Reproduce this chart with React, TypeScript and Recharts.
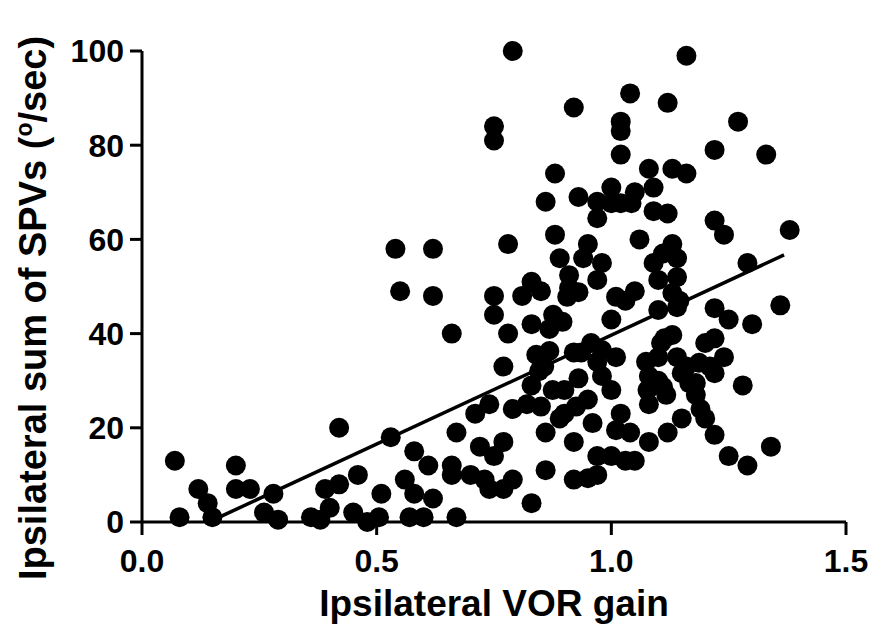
import { ScatterChart, Scatter, XAxis, YAxis, ReferenceLine, Label } from 'recharts';

// ipsilateral VOR gain (x) and sum of SPVs in deg/sec (y), split by gain range
const lowGain = [0.07, 0.08, 0.12, 0.14, 0.15, 0.2, 0.2, 0.23, 0.28, 0.26, 0.29, 0.42, 0.39, 0.42, 0.46, 0.36, 0.38, 0.4, 0.45, 0.48, 0.505, 0.51, 0.53, 0.58, 0.61, 0.56, 0.58, 0.62, 0.57, 0.6, 0.67, 0.67, 0.66, 0.66, 0.54, 0.62, 0.55, 0.62, 0.66];
const lowSpv = [13, 1, 7, 4, 1, 12, 7, 7, 6, 2, 0.5, 20, 7, 8, 10, 1, 0.5, 3, 2, 0, 1, 6, 18, 15, 12, 9, 6, 5, 1, 1, 1, 19, 12, 10, 58, 58, 49, 48, 40];

const midGain = [0.7, 0.71, 0.74, 0.72, 0.75, 0.77, 0.73, 0.74, 0.77, 0.79, 0.79, 0.82, 0.83, 0.85, 0.83, 0.86, 0.86, 0.875, 0.9, 0.89, 0.9, 0.93, 0.925, 0.95, 0.96, 0.92, 0.92, 0.95, 0.97, 0.97, 0.79, 0.75, 0.75, 0.88, 0.86, 0.78, 0.88, 0.89, 0.75, 0.75, 0.78, 0.83, 0.81, 0.85, 0.876, 0.83, 0.868, 0.84, 0.868, 0.857, 0.77, 0.846, 0.92, 0.93, 0.97, 0.97, 0.95, 0.94, 0.98, 0.91, 0.97, 0.91, 0.93, 0.906, 0.896, 0.957, 0.92, 0.936, 0.98, 0.97, 0.98];
const midSpv = [10, 23, 25, 16, 14, 17, 9, 7, 7, 9, 24, 25, 29, 24.5, 4, 11, 19, 28, 28, 22, 23, 30.5, 24.5, 26, 21, 17, 9, 9.3, 10, 14, 100, 84, 81, 74, 68, 59, 61, 56, 48, 44, 40, 51, 48, 49, 44, 42, 41, 35.5, 36.3, 33, 33, 32, 88, 69, 68, 64.5, 59, 56, 55, 52.4, 51.4, 49.7, 48.8, 47.8, 42.5, 38, 36, 36, 36.5, 34, 31];

const highGain = [1.0, 1.0, 1.03, 1.05, 1.02, 1.01, 1.04, 1.08, 1.08, 1.077, 1.117, 1.12, 1.15, 1.166, 1.18, 1.19, 1.2, 1.22, 1.25, 1.29, 1.34, 1.28, 1.16, 1.04, 1.12, 1.02, 1.02, 1.27, 1.02, 1.22, 1.08, 1.13, 1.16, 1.09, 1.0, 1.05, 1.0, 1.02, 1.043, 1.09, 1.12, 1.22, 1.33, 1.06, 1.13, 1.24, 1.09, 1.14, 1.11, 1.1, 1.14, 1.01, 1.05, 1.03, 1.13, 1.145, 1.14, 1.1, 1.22, 1.25, 1.0, 1.113, 1.106, 1.13, 1.2, 1.22, 1.01, 1.074, 1.1, 1.14, 1.16, 1.187, 1.21, 1.24, 1.08, 1.1, 1.11, 1.15, 1.18, 1.22, 1.38, 1.29, 1.36, 1.3];
const highSpv = [28, 14, 13, 13, 23, 19.5, 19, 17, 25, 28, 27, 19, 22, 29.5, 27, 24, 22, 18.5, 14, 12, 16, 29, 99, 91, 89, 85, 83, 85, 78, 79, 75, 75, 74, 71, 71, 70, 67.7, 67.7, 67.7, 66, 65.5, 64, 78, 60, 59, 61, 55, 56, 57, 51.4, 52, 47.8, 49, 47, 48.6, 47, 45.6, 45, 45.4, 43, 43, 39, 38, 39.7, 38, 39, 35, 34, 35, 35, 33, 33.8, 33, 35, 31, 30, 28.7, 31.6, 29.5, 31.6, 62, 55, 46, 42];

// linear fit endpoints
const fitGain = [0.166, 1.368];
const fitSpv = [1.1, 56.7];

const xTicks = [0, 0.5, 1.0, 1.5];
const yTicks = [0, 20, 40, 60, 80, 100];

const font = 'Arial, "Liberation Sans", sans-serif';

const toPoints = (xs: number[], ys: number[]) => xs.map((x, i) => ({ gain: x, spv: ys[i] }));
const points = [...toPoints(lowGain, lowSpv), ...toPoints(midGain, midSpv), ...toPoints(highGain, highSpv)];

const Dot = (props: any) => <circle cx={props.cx} cy={props.cy} r={10} fill="#000" />;

const XTitle = () => (
  <text x={494} y={616} textAnchor="middle" fontFamily={font} fontWeight={700} fontSize={37} fill="#000">
    Ipsilateral VOR gain
  </text>
);

const YTitle = () => (
  <text transform="translate(46, 308) rotate(-90)" textAnchor="middle" fontFamily={font} fontWeight={700} fontSize={38} fill="#000">
    Ipsilateral sum of SPVs (<tspan dy={-14} fontSize={23}>o</tspan>
    <tspan dy={14}>/sec)</tspan>
  </text>
);

const tickStyle = { fill: '#000', fontSize: 32, fontWeight: 700, fontFamily: font };
const lineStyle = { stroke: '#000', strokeWidth: 3 };

export default function App() {
  return (
    <div style={{ position: 'absolute', left: 0, top: 0, background: '#fff' }}>
      <ScatterChart width={876} height={636} margin={{ top: 51, right: 30, left: 0, bottom: 0 }}>
        <XAxis
          type="number"
          dataKey="gain"
          domain={[0, 1.5]}
          ticks={xTicks}
          interval={0}
          tickFormatter={(v: number) => v.toFixed(1)}
          tick={tickStyle}
          axisLine={lineStyle}
          tickLine={lineStyle}
          tickSize={13}
          tickMargin={14}
          height={114}
        >
          <Label content={XTitle} />
        </XAxis>
        <YAxis
          type="number"
          dataKey="spv"
          domain={[0, 100]}
          ticks={yTicks}
          interval={0}
          tick={tickStyle}
          axisLine={lineStyle}
          tickLine={lineStyle}
          tickSize={12}
          tickMargin={6}
          width={142}
        >
          <Label content={YTitle} />
        </YAxis>
        <Scatter data={points} shape={Dot} isAnimationActive={false} />
        <ReferenceLine
          segment={[
            { x: fitGain[0], y: fitSpv[0] },
            { x: fitGain[1], y: fitSpv[1] },
          ]}
          stroke="#000"
          strokeWidth={3.5}
        />
      </ScatterChart>
    </div>
  );
}
